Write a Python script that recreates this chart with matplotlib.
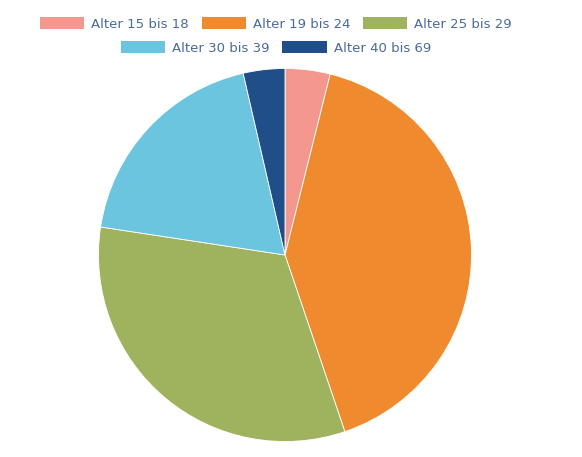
import matplotlib.pyplot as plt
from matplotlib.patches import Patch

labels = ["Alter 15 bis 18", "Alter 19 bis 24", "Alter 25 bis 29",
          "Alter 30 bis 39", "Alter 40 bis 69"]
values = [3.9, 40.9, 32.6, 19.0, 3.6]
colors = ["#F4978E", "#F08A2E", "#9FB35E", "#6BC5DE", "#1F4E89"]
text_color = "#4A6A9A"

W, H = 582, 457
fig = plt.figure(figsize=(W / 100, H / 100), dpi=100)

# pie centre and radius in pixels
cx, cy, r = 285, 255, 186.5
ax = fig.add_axes([(cx - r) / W, (H - cy - r) / H, 2 * r / W, 2 * r / H])
ax.pie(values, colors=colors, startangle=90, counterclock=False,
       radius=1, wedgeprops=dict(edgecolor="white", linewidth=0.6))
ax.set_xlim(-1, 1)
ax.set_ylim(-1, 1)
ax.set_aspect("equal")
ax.axis("off")

fs = 9.5
kw = dict(frameon=False, fontsize=fs, handlelength=3.35, handleheight=1.05,
          handletextpad=0.55, columnspacing=0.95, labelcolor=text_color,
          borderpad=0, borderaxespad=0, loc="center")
handles = [Patch(facecolor=c, edgecolor="none") for c in colors]
fig.legend(handles[:3], labels[:3], ncol=3,
           bbox_to_anchor=(276 / W, 1 - 24 / H), **kw)
fig.legend(handles[3:], labels[3:], ncol=2,
           bbox_to_anchor=(276 / W, 1 - 48 / H), **kw)

fig.savefig("out.png", dpi=100)
